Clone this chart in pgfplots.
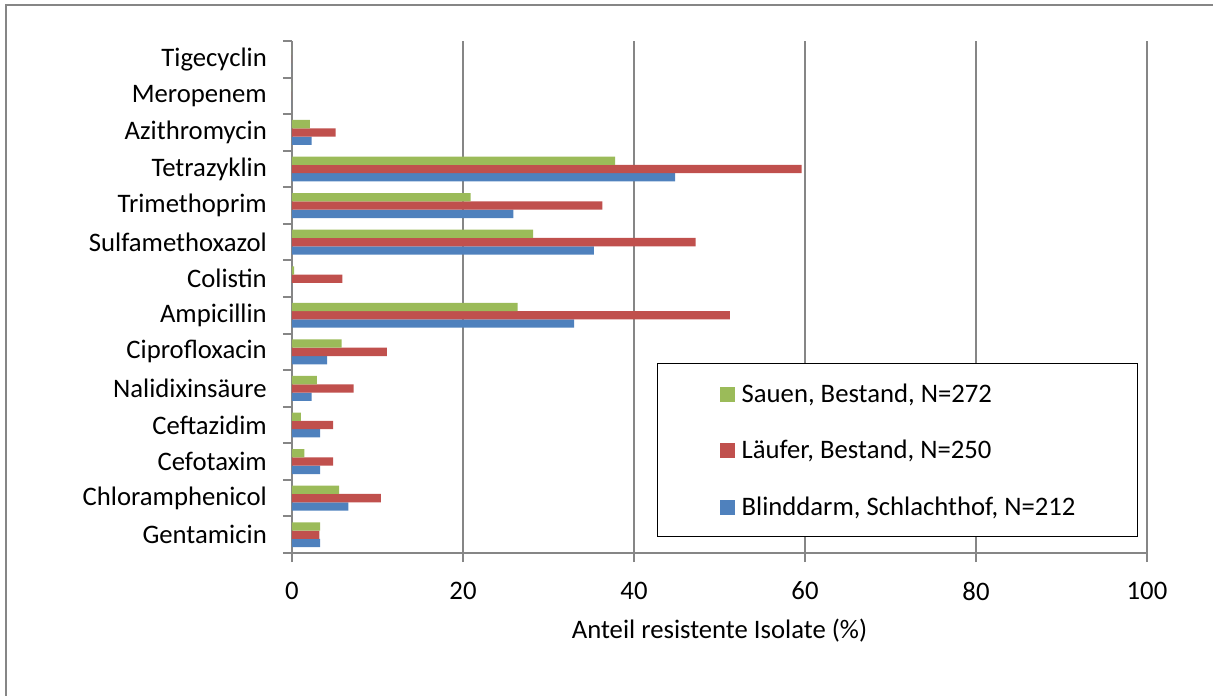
\documentclass[border=0pt]{standalone}
\usepackage{pgfplots}
\usepackage{pgfplotstable}
\pgfplotsset{compat=1.18}
\usepackage{fontspec}
\setmainfont{Carlito}

\definecolor{xlblue}{HTML}{4F81BD}
\definecolor{xlred}{HTML}{C0504D}
\definecolor{xlgreen}{HTML}{9BBB59}
\definecolor{axisgray}{HTML}{868686}

% rows bottom to top: 0 = Gentamicin ... 13 = Tigecyclin
\pgfplotstableread{
idx blind laeufer sauen
0  3.3  3.2  3.3
1  6.6  10.4 5.5
2  3.3  4.8  1.45
3  3.3  4.8  1.05
4  2.3  7.2  2.9
5  4.1  11.1 5.8
6  33.0 51.2 26.4
7  0    5.9  0.25
8  35.3 47.2 28.2
9  25.9 36.3 20.9
10 44.8 59.6 37.8
11 2.3  5.1  2.1
12 0    0    0
13 0    0    0
}\resdata

\newcommand{\chartfont}{\fontsize{26.7}{32}\selectfont}

\begin{document}
\begin{tikzpicture}
\useasboundingbox (-292pt,-143pt) rectangle (921pt,553pt);
\draw[axisgray, line width=2pt] (-285.5pt,-143pt) -- (-285.5pt,548pt) -- (921pt,548pt);
\begin{axis}[
    at={(0pt,0pt)}, anchor=south west,
    scale only axis,
    width=855pt, height=512pt,
    xbar=0pt, bar width=8.3pt,
    xmin=0, xmax=100,
    ymin=-0.5, ymax=13.5,
    axis x line*=bottom, axis y line*=left,
    axis line style={draw=axisgray, line width=2pt, -},
    xtick={0,20,...,100},
    minor xtick={0,20,...,100},
    ytick={0,...,13},
    minor ytick={-0.5,0.5,...,13.5},
    yticklabels={Gentamicin,Chloramphenicol,Cefotaxim,Ceftazidim,Nalidixinsäure,Ciprofloxacin,Ampicillin,Colistin,Sulfamethoxazol,Trimethoprim,Tetrazyklin,Azithromycin,Meropenem,Tigecyclin},
    tick align=outside,
    major tick length=0pt, minor tick length=9pt,
    tick style={draw=axisgray, line width=2pt},
    xmajorgrids, ymajorgrids=false,
    major grid style={draw=axisgray, line width=2pt},
    /pgf/number format/assume math mode=true,
    tick label style={font=\chartfont},
    yticklabel style={anchor=east, inner sep=0pt, xshift=-25pt},
    xticklabel style={anchor=north, inner sep=0pt, yshift=-28.7pt},
    xlabel={Anteil resistente Isolate (\%)},
    xlabel style={font=\chartfont, at={(axis description cs:0.5,0)}, anchor=base, yshift=-85pt},
    reverse legend,
    legend cell align=left,
    legend style={font=\chartfont, draw=black, line width=1.3pt,
        at={(0.4269,0.3711)}, anchor=north west,
        inner xsep=62pt, inner ysep=20pt,
        row sep=36.5pt, column sep=7pt,
        nodes={inner sep=0pt}},
    legend image code/.code={\fill[#1, draw=none] (0pt,-8pt) rectangle (15pt,7pt);},
]
\addplot[fill=xlblue, draw=none] table[x=blind, y=idx] {\resdata};
\addplot[fill=xlred, draw=none] table[x=laeufer, y=idx] {\resdata};
\addplot[fill=xlgreen, draw=none] table[x=sauen, y=idx] {\resdata};
\legend{{Blinddarm, Schlachthof, N=212},{Läufer, Bestand, N=250},{Sauen, Bestand, N=272}}
\end{axis}
\end{tikzpicture}
\end{document}
